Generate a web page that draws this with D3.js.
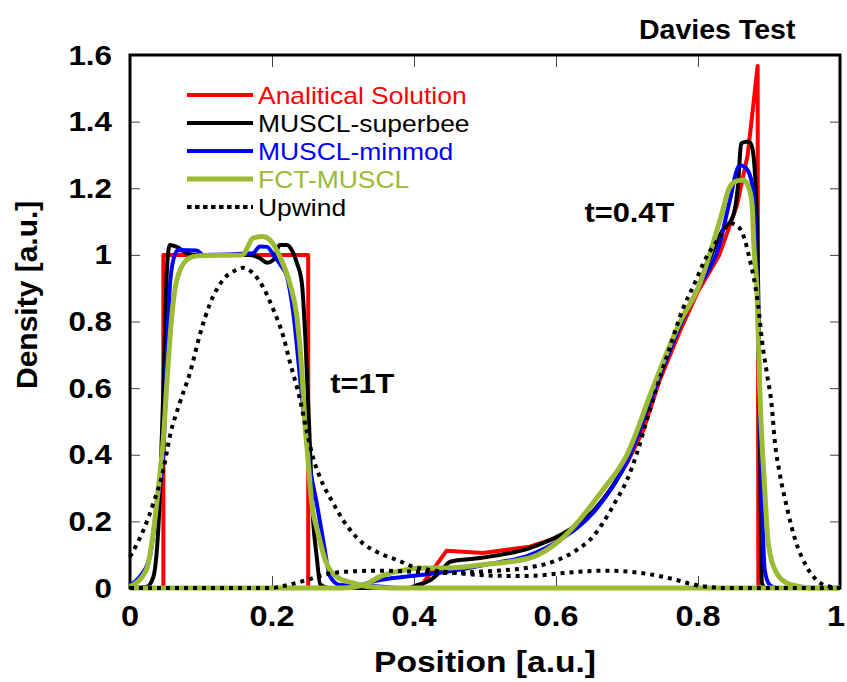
<!DOCTYPE html>
<html>
<head>
<meta charset="utf-8">
<script src="https://cdn.jsdelivr.net/npm/d3@7"></script>
<style>
  body { margin: 0; background: #fff; }
  svg { display: block; font-family: "Liberation Sans", Arial, sans-serif; }
</style>
</head>
<body>
<svg id="chart" width="847" height="682"></svg>
<script>
// ---- data: [position, density] ----
const analytic1T = [[0,0],[0.047,0],[0.047,1],[0.251,1],[0.251,0],[1,0]];
const analytic04T = [[0,0],[0.408,0],[0.446,0.112],[0.497,0.105],[0.563,0.124],[0.606,0.154],
  [0.652,0.225],[0.676,0.294],[0.70,0.375],[0.723,0.474],[0.746,0.624],[0.775,0.774],[0.80,0.89],
  [0.83,1.0],[0.855,1.15],[0.87,1.3],[0.884,1.567],[0.885,0],[1,0]];

const superbee1T = [[0,0],[0.024,0.004],[0.033,0.034],[0.042,0.274],[0.047,0.6],[0.052,0.955],
  [0.056,1.03],[0.066,1.024],[0.08,1.005],[0.09,1.0],[0.17,1.0],[0.183,0.99],[0.193,0.976],
  [0.202,0.985],[0.211,1.03],[0.221,1.03],[0.229,1.01],[0.235,0.976],[0.242,0.916],[0.247,0.75],
  [0.252,0.5],[0.258,0.2],[0.263,0.094],[0.268,0.01],[0.28,0],[1,0]];
const superbee04T = [[0,0],[0.39,0],[0.405,0.009],[0.423,0.024],[0.437,0.049],[0.451,0.079],
  [0.493,0.09],[0.563,0.12],[0.606,0.159],[0.652,0.23],[0.70,0.38],[0.746,0.64],[0.775,0.79],
  [0.80,0.9],[0.835,1.075],[0.849,1.114],[0.856,1.2],[0.861,1.335],[0.871,1.34],[0.876,1.325],
  [0.883,1.115],[0.885,0.874],[0.888,0.3],[0.89,0.015],[0.895,0],[1,0]];

const minmod1T = [[0,0.009],[0.014,0.034],[0.028,0.094],[0.038,0.255],[0.047,0.405],[0.052,0.7],
  [0.056,0.9],[0.061,0.985],[0.068,1.015],[0.094,1.013],[0.103,1.0],[0.173,1.005],[0.183,1.025],
  [0.193,1.024],[0.202,1.0],[0.212,0.97],[0.221,0.935],[0.23,0.825],[0.24,0.62],[0.254,0.354],
  [0.263,0.255],[0.272,0.144],[0.282,0.034],[0.296,0.009],[0.345,0.005],[0.38,0],[1,0]];
const minmod04T = [[0,0],[0.30,0],[0.352,0.024],[0.408,0.039],[0.446,0.049],[0.50,0.07],
  [0.563,0.099],[0.606,0.145],[0.652,0.225],[0.70,0.38],[0.746,0.635],[0.775,0.79],[0.80,0.9],
  [0.83,1.03],[0.845,1.165],[0.857,1.265],[0.861,1.268],[0.868,1.26],[0.876,1.215],[0.88,1.115],
  [0.883,0.915],[0.887,0.55],[0.891,0.195],[0.894,0.054],[0.901,0.009],[0.91,0],[1,0]];

const fct1T = [[0,0.004],[0.023,0.054],[0.033,0.17],[0.04,0.3],[0.047,0.45],[0.053,0.65],
  [0.059,0.82],[0.066,0.925],[0.08,0.985],[0.094,0.997],[0.159,1.0],[0.166,1.025],[0.173,1.05],
  [0.187,1.055],[0.197,1.045],[0.211,0.995],[0.225,0.915],[0.235,0.815],[0.242,0.654],
  [0.246,0.504],[0.25,0.404],[0.256,0.255],[0.265,0.164],[0.275,0.084],[0.291,0.034],
  [0.314,0.015],[0.34,0.003],[0.37,0],[1,0]];
const fct04T = [[0,0],[0.30,0],[0.328,0.008],[0.352,0.034],[0.376,0.049],[0.408,0.06],[0.446,0.06],
  [0.493,0.069],[0.563,0.09],[0.606,0.144],[0.666,0.294],[0.70,0.40],[0.737,0.604],[0.775,0.80],
  [0.80,0.9],[0.835,1.135],[0.843,1.195],[0.852,1.22],[0.864,1.225],[0.871,1.205],[0.876,1.155],
  [0.879,1.015],[0.883,0.895],[0.887,0.594],[0.894,0.294],[0.899,0.134],[0.911,0.044],
  [0.925,0.015],[0.939,0.006],[0.96,0],[1,0]];

const upwind1T = [[0,0.094],[0.019,0.174],[0.033,0.255],[0.047,0.354],[0.056,0.454],[0.07,0.555],
  [0.085,0.65],[0.099,0.765],[0.113,0.855],[0.131,0.925],[0.15,0.955],[0.159,0.961],[0.173,0.945],
  [0.187,0.905],[0.202,0.835],[0.216,0.755],[0.225,0.68],[0.239,0.57],[0.249,0.47],[0.258,0.39],
  [0.268,0.33],[0.286,0.255],[0.3,0.204],[0.314,0.164],[0.328,0.134],[0.352,0.104],[0.376,0.084],
  [0.399,0.064],[0.423,0.054],[0.465,0.044],[0.511,0.037],[0.56,0.036],[0.606,0.044],[0.64,0.05],
  [0.676,0.052],[0.723,0.044],[0.77,0.024],[0.79,0.012],[0.812,0.004],[0.84,0],[1,0]];
const upwind04T = [[0,0],[0.2,0],[0.211,0.004],[0.249,0.024],[0.272,0.039],[0.305,0.049],
  [0.352,0.052],[0.399,0.049],[0.446,0.045],[0.5,0.05],[0.563,0.062],[0.596,0.079],[0.629,0.114],
  [0.652,0.154],[0.666,0.195],[0.685,0.264],[0.70,0.324],[0.714,0.405],[0.728,0.504],[0.744,0.615],
  [0.76,0.72],[0.779,0.84],[0.793,0.904],[0.812,0.994],[0.831,1.054],[0.845,1.095],[0.854,1.09],
  [0.866,1.045],[0.873,0.985],[0.88,0.915],[0.885,0.845],[0.89,0.745],[0.897,0.645],[0.904,0.544],
  [0.908,0.444],[0.915,0.345],[0.925,0.244],[0.937,0.144],[0.953,0.064],[0.972,0.015],
  [0.986,0.004],[1,0]];

const seriesNames = ["Analitical Solution", "MUSCL-superbee", "MUSCL-minmod", "FCT-MUSCL", "Upwind"];
const xTicks = [0, 0.2, 0.4, 0.6, 0.8, 1];
const yTicks = [0, 0.2, 0.4, 0.6, 0.8, 1, 1.2, 1.4, 1.6];
const annotations = ["t=1T", "t=0.4T"];
const chartTitle = "Davies Test";

// ---- styles ----
const colors = ["#ff0000", "#000000", "#0000ff", "#9bbb35", "#000000"];
const widths = [4, 4, 4, 5, 4];
const curves = [
  {name: 0, data: [analytic1T, analytic04T], smooth: false},
  {name: 1, data: [superbee1T, superbee04T], smooth: true},
  {name: 2, data: [minmod1T, minmod04T], smooth: true},
  {name: 3, data: [fct1T, fct04T], smooth: true},
  {name: 4, data: [upwind1T, upwind04T], smooth: true, dash: "4,5"}
];
const sx = 1.12;  // the source picture is a bit wider than tall

const margin = {top: 55, right: 7, bottom: 94, left: 130};
const W = 847, H = 682;
const svg = d3.select("#chart");

const x = d3.scaleLinear().domain([0, 1]).range([margin.left, W - margin.right]);
const y = d3.scaleLinear().domain([0, 1.6]).range([H - margin.bottom, margin.top]);

// ticks on all four sides, pointing inward
const tickStyle = g => {
  g.select(".domain").remove();
  g.selectAll(".tick line").attr("stroke", "#444").attr("stroke-width", 1);
};
svg.append("g").attr("transform", `translate(0,${y(0)})`)
  .call(d3.axisBottom(x).tickValues(xTicks.slice(1, -1)).tickSize(-12).tickFormat(""))
  .call(tickStyle);
svg.append("g").attr("transform", `translate(0,${y(1.6)})`)
  .call(d3.axisTop(x).tickValues(xTicks.slice(1, -1)).tickSize(-12).tickFormat(""))
  .call(tickStyle);
svg.append("g").attr("transform", `translate(${x(0)},0)`)
  .call(d3.axisLeft(y).tickValues(yTicks.slice(1, -1)).tickSize(-10).tickFormat(""))
  .call(tickStyle);
svg.append("g").attr("transform", `translate(${x(1)},0)`)
  .call(d3.axisRight(y).tickValues(yTicks.slice(1, -1)).tickSize(-10).tickFormat(""))
  .call(tickStyle);

// tick labels (the last one is nudged in so it stays inside the page)
svg.append("g").selectAll("text").data(xTicks).join("text")
  .attr("transform", d => `translate(${Math.min(x(d), W - 11)},${y(0) + 38}) scale(${sx},1)`)
  .attr("text-anchor", "middle")
  .attr("font-size", 29).attr("font-weight", "bold")
  .text(d => d3.format("~g")(d));
svg.append("g").selectAll("text").data(yTicks).join("text")
  .attr("transform", d => `translate(${x(0) - 18},${y(d) + 9.5}) scale(${sx},1)`)
  .attr("text-anchor", "end")
  .attr("font-size", 28).attr("font-weight", "bold")
  .text(d => d3.format("~g")(d));

// axis titles
svg.append("text")
  .attr("transform", `translate(${(x(0) + x(1)) / 2},${H - 10}) scale(${sx},1)`)
  .attr("text-anchor", "middle").attr("font-size", 30).attr("font-weight", "bold")
  .text("Position [a.u.]");
svg.append("text")
  .attr("transform", `translate(37,${y(0.88)}) rotate(-90)`)
  .attr("text-anchor", "middle").attr("font-size", 30).attr("font-weight", "bold")
  .text("Density [a.u.]");

// title and annotations
svg.append("text")
  .attr("transform", `translate(${x(0.827)},39) scale(1.02,1)`)
  .attr("text-anchor", "middle").attr("font-size", 28).attr("font-weight", "bold")
  .text(chartTitle);
svg.append("text")
  .attr("transform", `translate(${x(0.282)},${y(0.585)}) scale(1.1,1)`)
  .attr("font-size", 28).attr("font-weight", "bold").text(annotations[0]);
svg.append("text")
  .attr("transform", `translate(${x(0.64)},${y(1.1)}) scale(1.1,1)`)
  .attr("font-size", 28).attr("font-weight", "bold").text(annotations[1]);

// data lines
const line = d3.line().x(d => x(d[0])).y(d => y(d[1]));
const plot = svg.append("g").attr("fill", "none").attr("stroke-linejoin", "round");
curves.forEach(c => {
  c.data.forEach(pts => {
    plot.append("path")
      .attr("d", line.curve(c.smooth ? d3.curveMonotoneX : d3.curveLinear)(pts))
      .attr("stroke", colors[c.name])
      .attr("stroke-width", widths[c.name])
      .attr("stroke-dasharray", c.dash || null);
  });
});

// frame
svg.append("rect")
  .attr("x", x(0)).attr("y", y(1.6))
  .attr("width", x(1) - x(0)).attr("height", y(0) - y(1.6))
  .attr("fill", "none").attr("stroke", "#000").attr("stroke-width", 3);
// data sitting on zero is drawn over the bottom edge in the source
plot.raise();

// legend
const legend = svg.append("g").attr("transform", "translate(187,95)");
const rows = legend.selectAll("g").data(seriesNames).join("g")
  .attr("transform", (d, i) => `translate(0,${i * 28})`);
rows.append("line")
  .attr("x1", 0).attr("x2", 66)
  .attr("stroke", (d, i) => colors[i])
  .attr("stroke-width", (d, i) => widths[i])
  .attr("stroke-dasharray", (d, i) => i === 4 ? "4.5,3.5" : null);
rows.append("text")
  .attr("transform", `translate(71,8.5) scale(1.15,1)`)
  .attr("font-size", 23)
  .attr("fill", (d, i) => i === 4 ? "#000" : colors[i])
  .text(d => d);
</script>
</body>
</html>
